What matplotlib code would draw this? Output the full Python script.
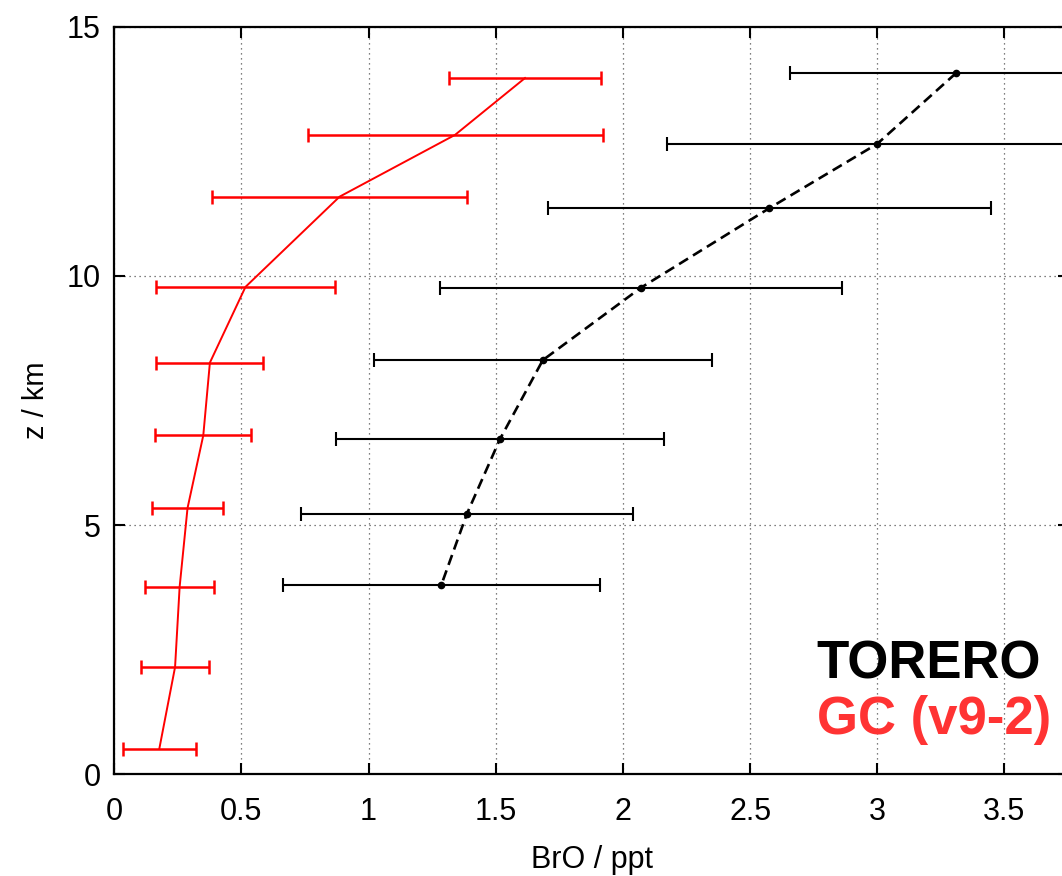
import matplotlib
matplotlib.use('Agg')
import matplotlib.pyplot as plt

plt.rcParams['font.family'] = ['Liberation Sans', 'DejaVu Sans']

# TORERO observations (black)
torero_z = [14.07, 12.65, 11.36, 9.76, 8.31, 6.72, 5.22, 3.80]
torero_bro = [3.31, 3.00, 2.576, 2.07, 1.685, 1.516, 1.386, 1.286]
torero_err = [0.655, 0.827, 0.87, 0.79, 0.664, 0.644, 0.652, 0.624]

# GEOS-Chem v9-2 (red)
gc_z = [13.97, 12.83, 11.59, 9.78, 8.26, 6.80, 5.34, 3.76, 2.15, 0.51]
gc_bro = [1.615, 1.34, 0.886, 0.516, 0.376, 0.35, 0.288, 0.257, 0.239, 0.177]
gc_err = [0.297, 0.58, 0.502, 0.353, 0.21, 0.188, 0.141, 0.136, 0.133, 0.143]

xticks = [0, 0.5, 1, 1.5, 2, 2.5, 3, 3.5]
xticklabels = ['0', '0.5', '1', '1.5', '2', '2.5', '3', '3.5']
yticks = [0, 5, 10, 15]

fig = plt.figure(figsize=(10.62, 8.76), dpi=100)
ax = fig.add_axes([0.1076, 0.1161, 0.899, 0.8534])

ax.errorbar(gc_bro, gc_z, xerr=gc_err, color='#ff0000', lw=1.4,
            elinewidth=1.8, capsize=4.7, capthick=1.8, zorder=3)
ax.errorbar(torero_bro, torero_z, xerr=torero_err, color='black', lw=1.9,
            ls=(0, (4, 2.2)), marker='o', ms=4.5, elinewidth=1.5,
            capsize=4.7, capthick=1.5, zorder=4)

ax.set_xlim(0, 3.754)
ax.set_ylim(0, 15)
ax.set_xticks(xticks)
ax.set_xticklabels(xticklabels)
ax.set_yticks(yticks)
ax.grid(True, ls=(0, (1, 3)), color='#555555', lw=0.9)
ax.tick_params(direction='in', length=8, width=1.5, top=True, right=True,
               labelsize=22)
ax.tick_params(axis='x', pad=16)
ax.tick_params(axis='y', pad=10)
for s in ax.spines.values():
    s.set_linewidth(1.6)

ax.set_xlabel('BrO / ppt', fontsize=22, labelpad=13)
ax.set_ylabel('z / km', fontsize=21, labelpad=12)

ax.text(0.971, 0.147, 'TORERO', transform=ax.transAxes, ha='right',
        va='center', fontsize=38, fontweight='bold', color='black')
ax.text(0.981, 0.073, 'GC (v9-2)', transform=ax.transAxes, ha='right',
        va='center', fontsize=38, fontweight='bold', color='#ff3333')

plt.savefig('out.png', dpi=100)
